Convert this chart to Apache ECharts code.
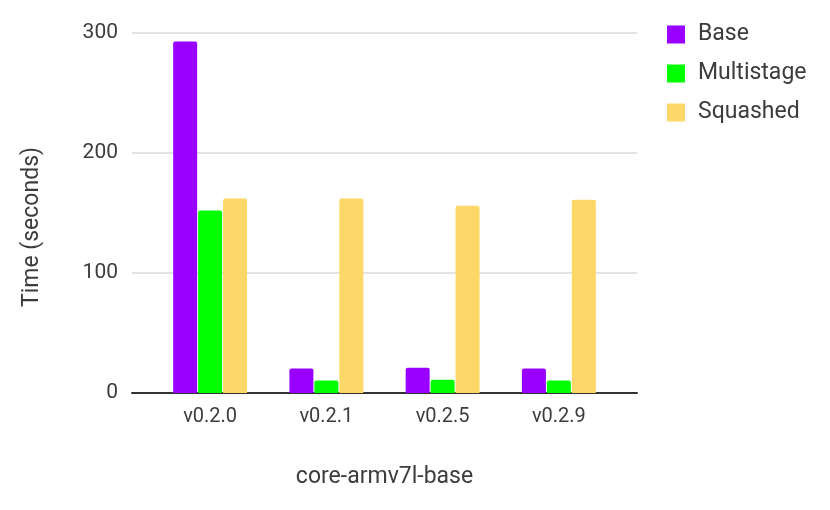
<!DOCTYPE html>
<html>
<head>
<meta charset="utf-8">
<script src="https://cdn.jsdelivr.net/npm/echarts@6/dist/echarts.min.js"></script>
<style>
  html, body { margin: 0; padding: 0; background: #fff; }
  #chart { width: 830px; height: 510px; }
</style>
</head>
<body>
<div id="chart"></div>
<script>
const versions = ['v0.2.0', 'v0.2.1', 'v0.2.5', 'v0.2.9']
const baseTimes = [293, 20.5, 21, 20.5]
const multistageTimes = [152, 10.5, 11, 10.5]
const squashedTimes = [162, 162, 156, 161]

const font = 'Roboto, "Noto Sans", sans-serif'
const textColor = '#3c3c3c'

const series = [
  { name: 'Base', color: '#9900ff', data: baseTimes },
  { name: 'Multistage', color: '#00ff00', data: multistageTimes },
  { name: 'Squashed', color: '#fdd868', data: squashedTimes }
]

const chart = echarts.init(document.getElementById('chart'), null, { renderer: 'canvas' })

chart.setOption({
  animation: false,
  textStyle: { fontFamily: font },
  legend: {
    orient: 'vertical',
    left: 662,
    top: 18,
    itemWidth: 18,
    itemHeight: 18,
    itemGap: 16,
    icon: 'rect',
    textStyle: { fontSize: 23, lineHeight: 18, color: textColor, fontFamily: font, padding: [0, 0, 0, 8] },
    data: series.map(s => s.name)
  },
  grid: [
    // wide grid: gridlines, y labels, baseline
    { left: 132, right: 193, top: 33, bottom: 117 },
    // inner grid: bars and category labels
    { left: 152, right: 213, top: 33, bottom: 117 }
  ],
  xAxis: [
    {
      gridIndex: 0,
      type: 'value',
      min: 0,
      max: 1,
      axisLine: { show: true, onZero: false, lineStyle: { color: '#333', width: 2 } },
      axisTick: { show: false },
      axisLabel: { show: false },
      splitLine: { show: false }
    },
    {
      gridIndex: 1,
      type: 'category',
      data: versions,
      axisLine: { show: false },
      axisTick: { show: false },
      axisLabel: { fontSize: 20, color: textColor, margin: 14, fontFamily: font },
      name: 'core-armv7l-base',
      nameLocation: 'middle',
      nameGap: 73,
      nameTextStyle: { fontSize: 23, color: textColor, fontFamily: font }
    }
  ],
  yAxis: [
    {
      gridIndex: 0,
      type: 'value',
      min: 0,
      max: 300,
      interval: 100,
      axisLine: { show: false },
      axisTick: { show: false },
      axisLabel: { fontSize: 21, color: textColor, margin: 14, fontFamily: font },
      splitLine: { lineStyle: { color: '#e3e3e3', width: 2 } },
      name: 'Time (seconds)',
      nameLocation: 'middle',
      nameGap: 88,
      nameTextStyle: { fontSize: 23, color: textColor, fontFamily: font, padding: [0, 28, 0, 0] }
    },
    {
      gridIndex: 1,
      type: 'value',
      min: 0,
      max: 300,
      interval: 100,
      show: false
    }
  ],
  series: series.map(s => ({
    name: s.name,
    type: 'bar',
    xAxisIndex: 1,
    yAxisIndex: 1,
    data: s.data,
    barWidth: 24,
    barGap: '4%',
    itemStyle: { color: s.color, borderRadius: [2, 2, 0, 0] }
  }))
})
</script>
</body>
</html>
